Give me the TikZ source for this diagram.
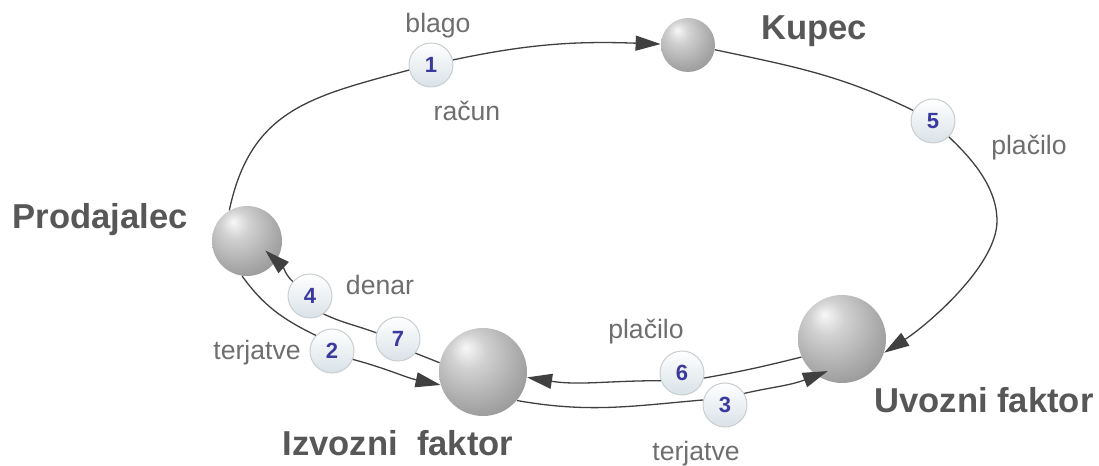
\documentclass[tikz,border=0pt]{standalone}
\usepackage{fontspec}
\setmainfont{Liberation Sans}
\usetikzlibrary{arrows.meta}
\definecolor{linec}{HTML}{404040}
\definecolor{lblc}{HTML}{6E6E6E}
\definecolor{headc}{HTML}{575757}
\definecolor{numc}{HTML}{3A3A9E}
\definecolor{numbot}{HTML}{D9E2E8}
\definecolor{numdraw}{HTML}{C9CED1}
\pgfdeclareradialshading{sphshade}{\pgfpoint{-10bp}{14bp}}{color(0bp)=(black!3); color(10bp)=(black!18); color(25bp)=(black!32); color(40bp)=(black!45); color(55bp)=(black!55); color(66bp)=(black!62)}
\begin{document}
\begin{tikzpicture}[x=0.5pt,y=0.5pt,
  sphere/.style={circle, inner sep=0pt, minimum size=#1, shading=sphshade},
  num/.style={circle, inner sep=0pt, minimum size=22pt, draw=numdraw, line width=0.5pt, top color=white, bottom color=numbot, text=numc, font=\fontsize{11}{12}\selectfont\bfseries},
  head/.style={anchor=base, text=headc, font=\fontsize{17.3}{20}\selectfont\bfseries},
  lbl/.style={anchor=base, text=lblc, font=\fontsize{13.3}{16}\selectfont},
  conn/.style={draw=linec, line width=0.65pt},
  arr/.style={conn, -{Triangle[length=12.5pt,width=7.5pt]}}
]
\useasboundingbox (0,0) rectangle (1099,466);
% spheres
\node[sphere=27pt] (K) at (688,421) {};
\node[sphere=35pt] (P) at (247,225) {};
\node[sphere=44pt] (I) at (483,94) {};
\node[sphere=44pt] (U) at (842,127) {};
% numbered circles
\node[num] (n1) at (431,401) {1};
\node[num] (n5) at (933,345) {5};
\node[num] (n4) at (310,170) {4};
\node[num] (n7) at (398,127) {7};
\node[num] (n2) at (332,115) {2};
\node[num] (n6) at (682,93) {6};
\node[num] (n3) at (725,61) {3};
% headings
\node[head] (tK) at (814,426) {Kupec};
\node[head] (tP) at (100,237) {Prodajalec};
\node[head] (tI) at (398,10) {Izvozni\ \ faktor};
\node[head] (tU) at (984,53) {Uvozni faktor};
% labels
\node[lbl] (l1) at (438,433) {blago};
\node[lbl] (l2) at (467,345) {račun};
\node[lbl] (l3) at (1029,311) {plačilo};
\node[lbl] (l4) at (380,171) {denar};
\node[lbl] (l5) at (257,106) {terjatve};
\node[lbl] (l6) at (646,127) {plačilo};
\node[lbl] (l7) at (696,5) {terjatve};
% connectors
\draw[conn] (P.120) to[out=78,in=195,looseness=1.15] (n1.193);
\draw[arr] (n1.13) to[out=12,in=178] (K.178);
\draw[conn] (K.-10) to[out=-12,in=154] (n5.152);
\draw[arr] (n5.-45) .. controls (970,309) and (997,280) .. (997,245) .. controls (997,200) and (926,140) .. (U.-18);
\draw[conn] (P.262) to[out=-54,in=154] (n2.136);
\draw[arr] (n2.-22) to[out=-15,in=168] (I.197);
\draw[conn] (I.168) to[out=158,in=-22] (n7.-39);
\draw[conn] (n7.164) to[out=160,in=-25] (n4.-53);
\draw[arr, shorten >=-7.5pt] (n4.140) to[out=137,in=-43] (P.-34);
\draw[conn] (U.204) to[out=194,in=10] (n6.-13);
\draw[arr] (n6.200) to[out=180,in=-9] (I.-7);
\draw[conn] (I.-40) to[out=-10,in=185] (n3.167);
\draw[arr, shorten >=-6pt] (n3.31) to[out=13,in=201] (U.235);
\end{tikzpicture}
\end{document}
